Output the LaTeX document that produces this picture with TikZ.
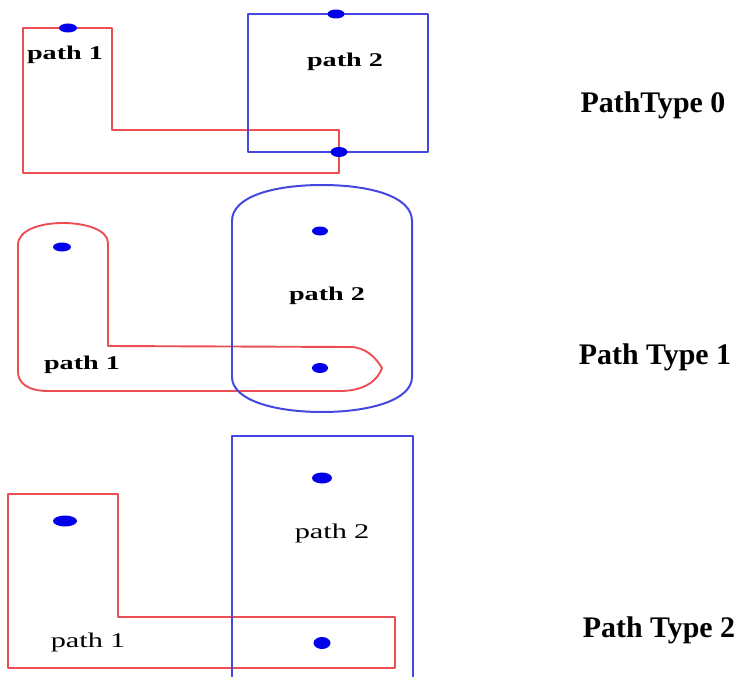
\documentclass[tikz,border=0pt]{standalone}
\usepackage{fontspec}
\setmainfont{Liberation Serif}
\newfontfamily\wideserif[FakeStretch=1.45]{Liberation Serif}
\usetikzlibrary{calc}
\definecolor{lred}{RGB}{236,78,84}
\definecolor{lblue}{RGB}{70,70,225}
\definecolor{dotblue}{RGB}{0,0,235}
\tikzset{
  redpath/.style={draw=lred, line width=2.2pt, line join=round},
  bluepath/.style={draw=lblue, line width=2.4pt, line join=round},
  spot/.style={fill=dotblue, draw=none},
  inlabel/.style={font=\wideserif\fontsize{19.5}{20}\selectfont\bfseries, inner sep=0pt},
  inlabelreg/.style={font=\wideserif\fontsize{21}{22}\selectfont, inner sep=0pt},
  typelabel/.style={font=\fontsize{30}{32}\selectfont\bfseries, inner sep=0pt},
}
\begin{document}
\begin{tikzpicture}[x=1bp, y=-1bp]
\useasboundingbox (0,0) rectangle (742,677);

% ---- Type 0: L-shaped region and square ----
\draw[redpath] (22.7,28) -- (112,28) -- (112,130) -- (339,130) -- (339,173) -- (22.7,173) -- cycle;
\draw[bluepath] (248,14) rectangle (428,152);
\fill[spot] (68,28) ellipse (9 and 4.5);
\fill[spot] (336,14) ellipse (8.5 and 4.5);
\fill[spot] (339,152) ellipse (8.5 and 5);
\node[inlabel] (a1) at (65,55) {path 1};
\node[inlabel] (a2) at (345,62) {path 2};
\node[typelabel] (t0) at (653,105) {PathType 0};

% ---- Type 1: rounded outlines ----
\draw[redpath, line width=1.9pt]
  (18,245) .. controls (18,230) and (40,223) .. (63,223)
  .. controls (86,223) and (108,230) .. (108,243)
  -- (108,346) -- (350,347)
  .. controls (366,347) and (376,358) .. (382,368)
  .. controls (378,380) and (365,391) .. (340,391)
  -- (48,391)
  .. controls (28,391) and (18,383) .. (18,372) -- cycle;
\draw[bluepath, line width=2pt]
  (232,221) .. controls (232,196) and (275,185) .. (322,185)
  .. controls (369,185) and (412,196) .. (412,221)
  -- (412,377)
  .. controls (412,400) and (370,412) .. (322,412)
  .. controls (274,412) and (232,400) .. (232,377) -- cycle;
\fill[spot] (62,247) ellipse (9 and 4.5);
\fill[spot] (320,231) ellipse (8 and 4.5);
\fill[spot] (320,368) ellipse (8 and 5);
\node[inlabel] (b2) at (327,296) {path 2};
\node[inlabel] (b1) at (82,365) {path 1};
\node[typelabel] (t1) at (655,357) {Path Type 1};

% ---- Type 2: L-shaped region and tall rectangle ----
\draw[redpath] (8,494) -- (118,494) -- (118,617) -- (395,617) -- (395,668) -- (8,668) -- cycle;
\draw[bluepath] (232,690) -- (232,436) -- (413,436) -- (413,690);
\fill[spot] (65,521) ellipse (12 and 5.5);
\fill[spot] (322,478) ellipse (10 and 5.5);
\fill[spot] (322,643) ellipse (8.5 and 6);
\node[inlabelreg] (c2) at (332,533) {path\,\,2};
\node[inlabelreg] (c1) at (88,642) {path\,\,1};
\node[typelabel] (t2) at (659,630) {Path Type 2};
\end{tikzpicture}
\end{document}
